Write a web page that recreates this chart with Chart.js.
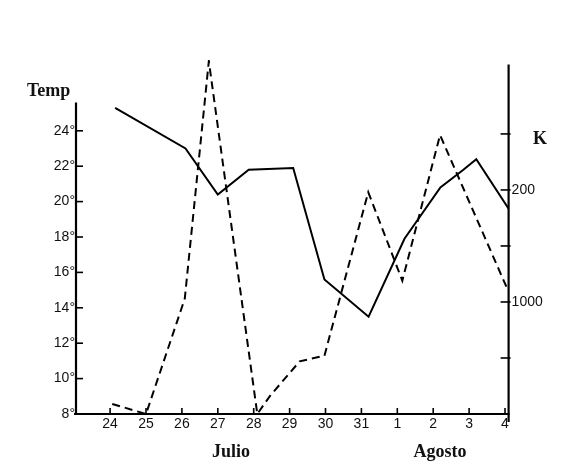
<!DOCTYPE html>
<html>
<head>
<meta charset="utf-8">
<script src="https://cdn.jsdelivr.net/npm/chart.js@4/dist/chart.umd.min.js"></script>
<style>
  html,body{margin:0;padding:0;background:#fff;}
  canvas{display:block;}
</style>
</head>
<body>
<canvas id="c" width="577" height="469"></canvas>
<script>
// Day categories (x axis tick labels)
const xLabels = ['24','25','26','27','28','29','30','31','1','2','3','4'];
// Temperature series (solid line): x as day index, value in °C
const tempDays   = [0.14, 2.1, 3.0, 3.86, 5.1, 5.97, 7.2, 8.2, 9.2, 9.84, 10.2, 11.1];
const tempValues = [25.3, 23.0, 20.4, 21.8, 21.9, 15.6, 13.5, 17.9, 20.8, 21.8, 22.4, 19.6];
// K series (dashed line)
const kDays   = [0.06, 1.0, 2.08, 2.75, 4.1, 4.45, 5.28, 5.97, 7.19, 8.14, 9.19, 11.06];
const kValues = [90, 0, 1030, 3150, 0, 160, 470, 520, 1980, 1190, 2490, 1120];
// Axis ticks
const tempTicks = [8, 10, 12, 14, 16, 18, 20, 22, 24];
const kTicks = [500, 1000, 1500, 2000, 2500];
const kTickLabels = ['', '1000', '', '200', ''];
const tempAxisTop = 25.6;
const kAxisTop = 3120;

const frame = {
  id: 'frame',
  afterDraw(chart) {
    const ctx = chart.ctx;
    const x = chart.scales.x, y = chart.scales.y, y1 = chart.scales.y1;
    const a = chart.chartArea;
    ctx.save();
    ctx.strokeStyle = '#000';
    ctx.lineWidth = 2.2;
    ctx.lineCap = 'butt';
    const ln = (x0, y0, x1, y1_) => { ctx.beginPath(); ctx.moveTo(x0, y0); ctx.lineTo(x1, y1_); ctx.stroke(); };
    // x axis
    ln(a.left - 2, a.bottom, a.right + 1, a.bottom);
    // left axis
    ln(a.left, y.getPixelForValue(8) + 1, a.left, y.getPixelForValue(tempAxisTop));
    // right axis
    ln(a.right, y1.getPixelForValue(0) + 8, a.right, y1.getPixelForValue(kAxisTop));
    ctx.lineWidth = 1.6;
    tempTicks.forEach(v => { const p = y.getPixelForValue(v); ln(a.left, p, a.left + 7, p); });
    kTicks.forEach(v => { const p = y1.getPixelForValue(v); ln(a.right - 8, p, a.right + 2, p); });
    xLabels.forEach((l, i) => { const p = x.getPixelForValue(i); ln(p, a.bottom, p, a.bottom - 6); });
    // titles
    ctx.fillStyle = '#111';
    ctx.font = 'bold 18px "Liberation Serif", "Times New Roman", serif';
    ctx.textBaseline = 'middle';
    ctx.textAlign = 'left';
    ctx.fillText('Temp', 27, 91);
    ctx.fillText('K', 533, 139);
    ctx.textAlign = 'center';
    ctx.fillText('Julio', 231, 452);
    ctx.fillText('Agosto', 440, 452);
    ctx.restore();
  }
};

const tickFont = { family: '"Liberation Sans", Arial, sans-serif', size: 14 };

new Chart(document.getElementById('c'), {
  type: 'line',
  data: {
    datasets: [
      {
        label: 'Temp',
        data: tempDays.map((d, i) => ({ x: d, y: tempValues[i] })),
        yAxisID: 'y',
        borderColor: '#000',
        borderWidth: 2,
        pointRadius: 0,
        tension: 0,
        fill: false
      },
      {
        label: 'K',
        data: kDays.map((d, i) => ({ x: d, y: kValues[i] })),
        yAxisID: 'y1',
        borderColor: '#000',
        borderWidth: 2,
        borderDash: [8, 5],
        pointRadius: 0,
        tension: 0,
        fill: false
      }
    ]
  },
  options: {
    responsive: false,
    animation: false,
    devicePixelRatio: 1,
    layout: { padding: { top: 60, left: 0, right: 0, bottom: 0 } },
    plugins: { legend: { display: false }, tooltip: { enabled: false } },
    scales: {
      x: {
        type: 'linear',
        min: -0.95,
        max: 11.1,
        grid: { display: false, drawTicks: false },
        border: { display: false },
        afterBuildTicks: s => { s.ticks = xLabels.map((l, i) => ({ value: i })); },
        afterFit: s => { s.height = 55; },
        ticks: {
          color: '#111',
          font: tickFont,
          padding: 2,
          maxRotation: 0,
          autoSkip: false,
          callback: v => xLabels[v]
        }
      },
      y: {
        position: 'left',
        min: 8,
        max: 28,
        grid: { display: false, drawTicks: false },
        border: { display: false },
        afterBuildTicks: s => { s.ticks = tempTicks.map(v => ({ value: v })); },
        afterFit: s => { s.width = 76; },
        ticks: {
          color: '#111',
          font: tickFont,
          padding: 1,
          callback: v => v + '°'
        }
      },
      y1: {
        position: 'right',
        min: 0,
        max: 3160,
        grid: { display: false, drawTicks: false },
        border: { display: false },
        afterBuildTicks: s => { s.ticks = kTicks.map(v => ({ value: v })); },
        afterFit: s => { s.width = 68.4; },
        ticks: {
          color: '#111',
          font: tickFont,
          padding: 3,
          callback: v => kTickLabels[kTicks.indexOf(v)]
        }
      }
    }
  },
  plugins: [frame]
});
</script>
</body>
</html>
